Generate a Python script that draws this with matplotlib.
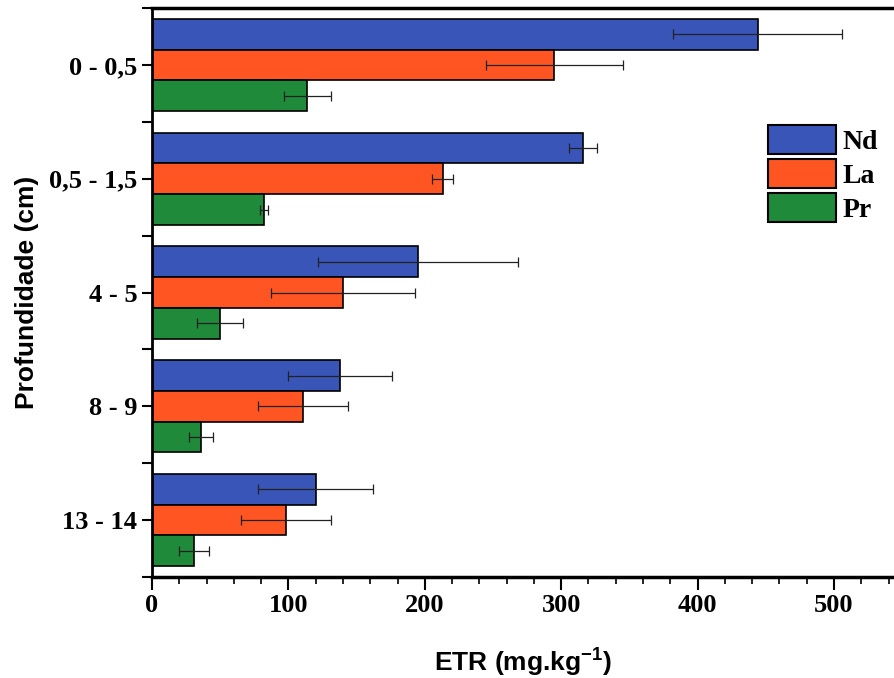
import numpy as np
import matplotlib.pyplot as plt
from matplotlib.ticker import MultipleLocator, FixedLocator

# profundidades (de cima para baixo) e teores de ETR
profundidades = ['0 - 0,5', '0,5 - 1,5', '4 - 5', '8 - 9', '13 - 14']
nd = [444, 316, 195, 138, 120]
nd_err = [62, 10, 73, 38, 42]
la = [295, 213, 140, 111, 98]
la_err = [50, 8, 53, 33, 33]
pr = [114, 82, 50, 36, 31]
pr_err = [17, 3, 17, 9, 11]

series = [('Nd', nd, nd_err, '#3a55b8'),
          ('La', la, la_err, '#ff5522'),
          ('Pr', pr, pr_err, '#1f8a3a')]

plt.rcParams['mathtext.fontset'] = 'custom'
plt.rcParams['mathtext.bf'] = 'Liberation Sans:bold'
plt.rcParams['mathtext.rm'] = 'Liberation Sans:bold'

fig = plt.figure(figsize=(8.94, 6.78), dpi=100)
ax = fig.add_axes([0.170, 0.149, 0.830, 0.839])

y = np.arange(len(profundidades))
h = 0.27
for i, (nome, vals, errs, cor) in enumerate(series):
    ax.barh(y + (i - 1) * h, vals, height=h, color=cor, edgecolor='black',
            linewidth=1.2, label=nome,
            xerr=errs, error_kw=dict(ecolor='#222222', elinewidth=0.9,
                                     capsize=3.6, capthick=0.9))

ax.set_xlim(0, 544)
ax.set_ylim(4.5, -0.5)

ax.xaxis.set_major_locator(MultipleLocator(100))
ax.xaxis.set_minor_locator(MultipleLocator(20))
ax.set_yticks(y)
ax.set_yticklabels(profundidades)
ax.yaxis.set_minor_locator(FixedLocator(np.arange(-0.5, 5, 1.0)))

ax.tick_params(axis='x', which='major', direction='out', length=9, width=1.5)
ax.tick_params(axis='x', which='minor', direction='out', length=5, width=1.2)
ax.tick_params(axis='y', which='both', direction='out', length=7, width=1.5)
for lab in ax.get_xticklabels() + ax.get_yticklabels():
    lab.set_fontfamily('Liberation Serif')
    lab.set_fontweight('bold')
    lab.set_fontsize(19)

ax.spines['right'].set_visible(False)
ax.spines['top'].set_linewidth(2.5)
ax.spines['bottom'].set_linewidth(2.5)
ax.spines['left'].set_linewidth(2)

ax.set_xlabel('ETR (mg.kg$^{\\mathrm{-1}}$)', family='Liberation Sans',
              fontweight='bold', fontsize=19, labelpad=20)
ax.set_ylabel('Profundidade (cm)', family='Liberation Sans',
              fontweight='bold', fontsize=19, labelpad=7)

handles = [plt.Rectangle((0, 0), 1, 1, facecolor=c, edgecolor='black', linewidth=1.5)
           for _, _, _, c in series]
fig.legend(handles, [s[0] for s in series], loc='upper left',
           bbox_to_anchor=(0.843, 0.836), frameon=False, borderpad=0,
           handlelength=2.45, handleheight=1.25, labelspacing=0.14,
           handletextpad=0.25,
           prop=dict(family='Liberation Serif', weight='bold', size=20))

fig.savefig('out.png', dpi=100)
